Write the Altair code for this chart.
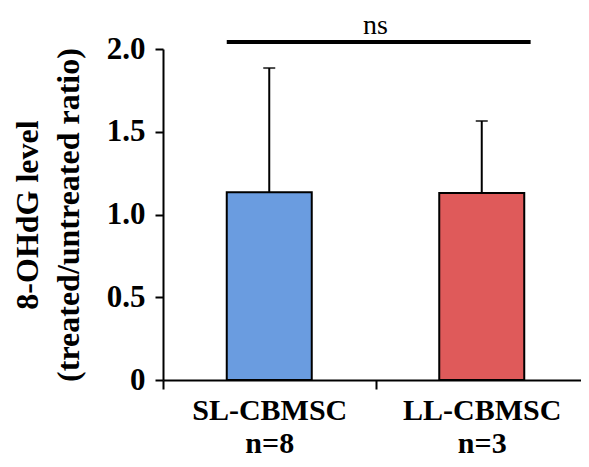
import altair as alt
import pandas as pd

groups = ["SL-CBMSC", "LL-CBMSC"]
n_labels = ["n=8", "n=3"]
means = [1.135, 1.13]
upper = [1.885, 1.565]
colors = ["#6A9CE0", "#DF5A5A"]
y_ticks = [0, 0.5, 1.0, 1.5, 2.0]
sig_level = 2.042
sig_text = "ns"

df = pd.DataFrame({"group": groups, "mean": means, "upper": upper})

FONT = "'Liberation Serif', 'Times New Roman', Times, serif"

n_expr = "''"
for g, n in zip(reversed(groups), reversed(n_labels)):
    n_expr = f"datum.label == '{g}' ? '{n}' : ({n_expr})"
label_expr = f"[datum.label, {n_expr}]"

x_enc = alt.X(
    "group:N",
    sort=groups,
    scale=alt.Scale(domain=groups, paddingInner=0, paddingOuter=0),
    axis=alt.Axis(
        title=None,
        labelAngle=0,
        labelFont=FONT,
        labelFontWeight="bold",
        labelFontSize=30,
        labelColor="black",
        labelLineHeight=33.5,
        labelPadding=6,
        labelExpr=label_expr,
        tickBand="extent",
        tickSize=9,
        tickWidth=2,
        tickColor="black",
        domainColor="black",
        domainWidth=2,
    ),
)

y_scale = alt.Scale(domain=[0, 2], nice=False, zero=True)
y_axis = alt.Axis(
    title=["8-OHdG level", "(treated/untreated ratio)"],
    titleFont=FONT,
    titleFontWeight="bold",
    titleFontSize=32,
    titleColor="black",
    titleLineHeight=41,
    titlePadding=21,
    values=y_ticks,
    labelExpr="datum.value == 0 ? '0' : format(datum.value, '.1f')",
    labelFont=FONT,
    labelFontWeight="bold",
    labelFontSize=31,
    labelColor="black",
    labelPadding=10,
    tickSize=8,
    tickWidth=2,
    tickColor="black",
    domainColor="black",
    domainWidth=2,
    grid=False,
)

base = alt.Chart(df)

err_rule = base.mark_rule(color="black", strokeWidth=2).encode(
    x=x_enc,
    y=alt.Y("mean:Q", scale=y_scale, axis=y_axis),
    y2="upper:Q",
)
err_cap = base.mark_tick(color="black", size=12, thickness=2, orient="horizontal").encode(
    x=alt.X("group:N", sort=groups),
    y="upper:Q",
)
bars = base.mark_bar(width={"band": 0.4}, stroke="black", strokeWidth=2).encode(
    x=alt.X("group:N", sort=groups),
    y="mean:Q",
    color=alt.Color("group:N", scale=alt.Scale(domain=groups, range=colors), legend=None),
)

sig_df = pd.DataFrame({"level": [sig_level], "label": [sig_text]})
sig = alt.Chart(sig_df).mark_rule(color="black", strokeWidth=4).encode(
    x=alt.X(datum=groups[0], bandPosition=0.3),
    x2=alt.X2(datum=groups[1], bandPosition=0.73),
    y="level:Q",
)
sig_label = alt.Chart(sig_df).mark_text(
    font=FONT, fontSize=28, color="black", baseline="alphabetic", dy=-8
).encode(
    x=alt.X(datum=groups[1], bandPosition=0),
    y="level:Q",
    text="label:N",
)

chart = (
    alt.layer(err_rule, err_cap, bars, sig, sig_label)
    .properties(
        width=425,
        height=331,
        autosize=alt.AutoSizeParams(type="none"),
        padding={"left": 155, "top": 41, "right": -7, "bottom": 79},
    )
    .configure_view(stroke=None)
)

chart.save("out.html", embed_options={"renderer": "svg", "actions": False})
